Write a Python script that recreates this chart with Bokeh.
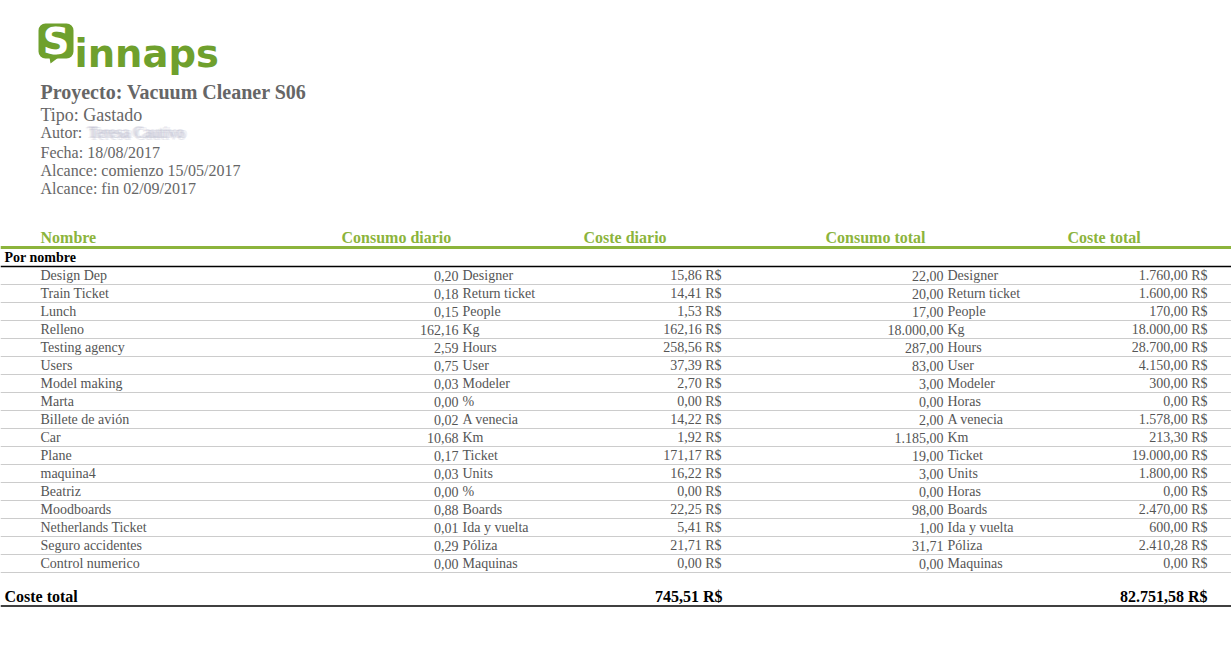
from bokeh.plotting import figure
from bokeh.models import Range1d, ColumnDataSource, Quad
from bokeh.core.properties import value
from bokeh.embed import file_html
from bokeh.resources import INLINE

# ---------------- data ----------------
proyecto = "Proyecto: Vacuum Cleaner S06"
info_lines = ["Tipo: Gastado", "Autor:", "Fecha: 18/08/2017",
              "Alcance: comienzo 15/05/2017", "Alcance: fin 02/09/2017"]
autor = "Teresa Cautivo"
headers = ["Nombre", "Consumo diario", "Coste diario", "Consumo total", "Coste total"]
grupo = "Por nombre"
nombres = ["Design Dep", "Train Ticket", "Lunch", "Relleno", "Testing agency", "Users",
           "Model making", "Marta", "Billete de avión", "Car", "Plane", "maquina4",
           "Beatriz", "Moodboards", "Netherlands Ticket", "Seguro accidentes",
           "Control numerico"]
consumo_diario = [0.20, 0.18, 0.15, 162.16, 2.59, 0.75, 0.03, 0.00, 0.02, 10.68, 0.17,
                  0.03, 0.00, 0.88, 0.01, 0.29, 0.00]
unidad_diaria = ["Designer", "Return ticket", "People", "Kg", "Hours", "User", "Modeler",
                 "%", "A venecia", "Km", "Ticket", "Units", "%", "Boards",
                 "Ida y vuelta", "Póliza", "Maquinas"]
coste_diario = [15.86, 14.41, 1.53, 162.16, 258.56, 37.39, 2.70, 0.00, 14.22, 1.92,
                171.17, 16.22, 0.00, 22.25, 5.41, 21.71, 0.00]
consumo_total = [22.00, 20.00, 17.00, 18000.00, 287.00, 83.00, 3.00, 0.00, 2.00, 1185.00,
                 19.00, 3.00, 0.00, 98.00, 1.00, 31.71, 0.00]
unidad_total = ["Designer", "Return ticket", "People", "Kg", "Hours", "User", "Modeler",
                "Horas", "A venecia", "Km", "Ticket", "Units", "Horas", "Boards",
                "Ida y vuelta", "Póliza", "Maquinas"]
coste_total = [1760.00, 1600.00, 170.00, 18000.00, 28700.00, 4150.00, 300.00, 0.00,
               1578.00, 213.30, 19000.00, 1800.00, 0.00, 2470.00, 600.00, 2410.28, 0.00]
total_label = "Coste total"
total_coste_diario = 745.51
total_coste_total = 82751.58
moneda = "R$"


def fmt(v):
    s = f"{v:,.2f}"
    return s.replace(",", "X").replace(".", ",").replace("X", ".")


# ---------------- layout / style ----------------
SERIF = value("Liberation Serif")
GRAY = "#555555"
TITLE_GRAY = "#666666"
GREEN = "#8cb43c"
LOGO_GREEN = "#6fa02d"
W, H = 1231, 653
LEFT, RIGHT = 0, W
ROW0, ROWH = 275, 18

p = figure(width=W, height=H, x_range=Range1d(0, W), y_range=Range1d(H, 0),
           output_backend="svg", toolbar_location=None, min_border=0,
           x_axis_type=None, y_axis_type=None)
p.grid.visible = False
p.outline_line_color = None
p.background_fill_color = "white"
p.border_fill_color = "white"

# ---- logo ----
qkw = dict(left=[38], right=[73], top=[23], bottom=[58], fill_color=LOGO_GREEN, line_color=None)
if "border_radius" in Quad.properties():
    qkw["border_radius"] = 7
p.quad(**qkw)
p.patch(x=[49, 58, 50], y=[57, 57, 63], fill_color=LOGO_GREEN, line_color=None)
p.text(x=[55.5], y=[41], text=["S"], text_font=value("DejaVu Sans"), text_font_style="bold",
       text_font_size="37px", text_color="white", text_align="center", text_baseline="middle")
p.text(x=[74], y=[53], text=["innaps"], text_font=value("DejaVu Sans"), text_font_style="bold",
       text_font_size="38.5px", text_color=LOGO_GREEN, text_align="left",
       text_baseline="alphabetic")

# ---- project info ----
p.text(x=[40], y=[91], text=[proyecto], text_font=SERIF, text_font_style="bold",
       text_font_size="20px", text_color=TITLE_GRAY, text_baseline="middle")
info_y = [114, 132, 152, 170, 188]
info_size = ["18px", "16px", "16px", "16px", "16px"]
for t, y, s in zip(info_lines, info_y, info_size):
    p.text(x=[40], y=[y], text=[t], text_font=SERIF, text_font_size=s,
           text_color=TITLE_GRAY, text_baseline="middle")
for dx, dy in [(0, 0), (1.5, 0), (-1.5, 0), (0, 1.5), (0, -1.5), (3, 0), (-3, 0), (1.5, 1.5), (-1.5, -1.5)]:
    p.text(x=[88 + dx], y=[132 + dy], text=[autor], text_font=SERIF, text_font_size="16px",
           text_color="#b8b8cc", text_alpha=0.22, text_baseline="middle")

# ---- table header ----
head_x = [40, 341, 583, 825, 1067]
p.text(x=head_x, y=[237] * 5, text=headers, text_font=SERIF, text_font_style="bold",
       text_font_size="16px", text_color=GREEN, text_baseline="middle")
p.segment(x0=[LEFT], x1=[RIGHT], y0=[247], y1=[247], line_color=GREEN, line_width=3)

p.text(x=[4], y=[257], text=[grupo], text_font=SERIF, text_font_style="bold",
       text_font_size="14px", text_color="black", text_baseline="middle")
p.segment(x0=[LEFT], x1=[RIGHT], y0=[266], y1=[266], line_color="black", line_width=1.5)

# ---- rows ----
n = len(nombres)
ys = [ROW0 + i * ROWH for i in range(n)]
src = ColumnDataSource(dict(
    y=ys,
    nombre=nombres,
    cd=[fmt(v) for v in consumo_diario],
    ud=unidad_diaria,
    cs=[fmt(v) + " " + moneda for v in coste_diario],
    ct=[fmt(v) for v in consumo_total],
    ut=unidad_total,
    cst=[fmt(v) + " " + moneda for v in coste_total],
))
row_kw = dict(source=src, text_font=SERIF, text_font_size="14px", text_color=GRAY,
              text_baseline="middle")
p.text(x=40, y="y", text="nombre", text_align="left", **row_kw)
p.text(x=458, y="y", text="cd", text_align="right", **row_kw)
p.text(x=462, y="y", text="ud", text_align="left", **row_kw)
p.text(x=721, y="y", text="cs", text_align="right", **row_kw)
p.text(x=943, y="y", text="ct", text_align="right", **row_kw)
p.text(x=947, y="y", text="ut", text_align="left", **row_kw)
p.text(x=1207, y="y", text="cst", text_align="right", **row_kw)

sep_y = [y + ROWH / 2 for y in ys]
p.segment(x0=[LEFT] * n, x1=[RIGHT] * n, y0=sep_y, y1=sep_y, line_color="#cccccc",
          line_width=1)

# ---- totals ----
tot_kw = dict(text_font=SERIF, text_font_style="bold", text_font_size="16px",
              text_color="black", text_baseline="middle")
p.text(x=[4], y=[596], text=[total_label], text_align="left", **tot_kw)
p.text(x=[722, 1207], y=[596, 596],
       text=[fmt(total_coste_diario) + " " + moneda, fmt(total_coste_total) + " " + moneda],
       text_align="right", **tot_kw)
p.segment(x0=[LEFT], x1=[RIGHT], y0=[605.5], y1=[605.5], line_color="black", line_width=1.5)

open("out.html", "w").write(file_html(p, INLINE))
